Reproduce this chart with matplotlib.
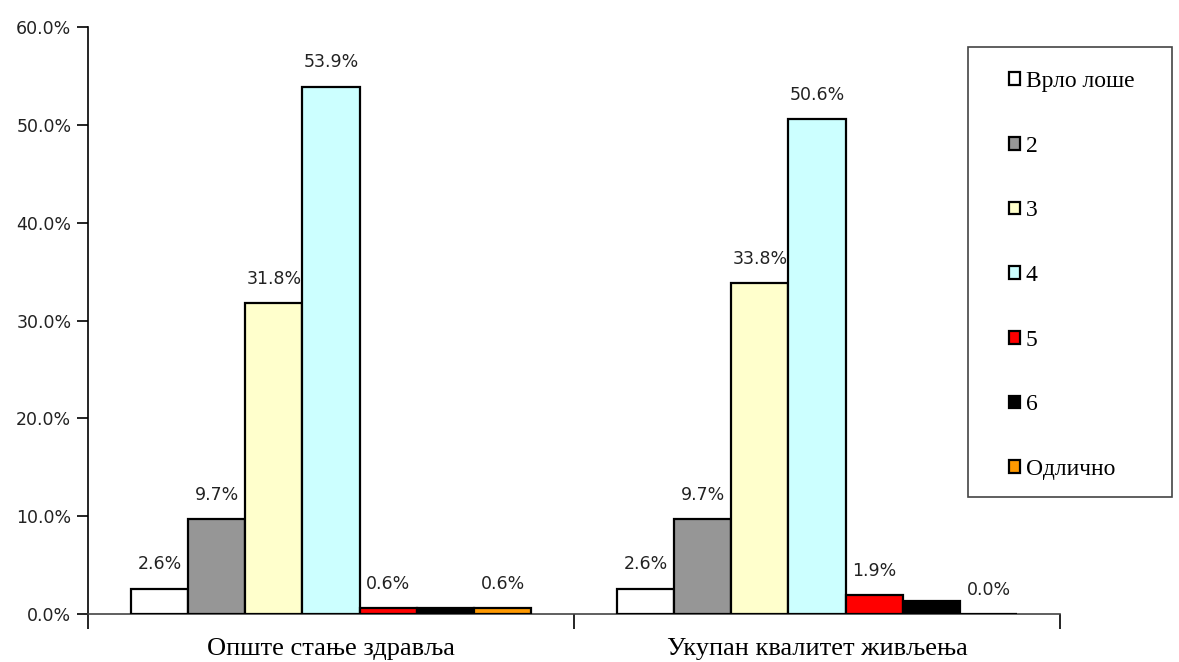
"""
Grouped bar chart: self-rated health and quality of life (Serbian Cyrillic labels)
"""

import matplotlib
matplotlib.use("Agg")
import matplotlib.pyplot as plt
from matplotlib.patches import Rectangle
from matplotlib.ticker import FuncFormatter

# categories on the x axis
categories = ["Опште стање здравља", "Укупан квалитет живљења"]

# series names (rating scale) and their values in percent
series_names = ["Врло лоше", "2", "3", "4", "5", "6", "Одлично"]
vrlo_lose = [2.6, 2.6]
ocena_2 = [9.7, 9.7]
ocena_3 = [31.8, 33.8]
ocena_4 = [53.9, 50.6]
ocena_5 = [0.6, 1.9]
ocena_6 = [0.6, 1.3]
odlicno = [0.6, 0.0]
series_values = [vrlo_lose, ocena_2, ocena_3, ocena_4, ocena_5, ocena_6, odlicno]

# series 6 has no data labels in the original
show_labels = [True, True, True, True, True, False, True]

colors = ["#FFFFFF", "#969696", "#FFFFCC", "#CCFFFF", "#FF0000", "#000000", "#FF9900"]

SERIF = "Liberation Serif"
SANS = "DejaVu Sans"

fig = plt.figure(figsize=(11.79, 6.62), dpi=100)
ax = fig.add_axes([88 / 1179, 48 / 662, (1060 - 88) / 1179, (614 - 27) / 662])

n = len(series_names)
width = 1 / (n + 1.5)  # Excel-like gap width of 150%

for i, (name, vals) in enumerate(zip(series_names, series_values)):
    xs = [c + (i - (n - 1) / 2) * width for c in range(len(categories))]
    bars = ax.bar(xs, vals, width=width, color=colors[i], edgecolor="black",
                  linewidth=1.6, label=name, zorder=3)
    if show_labels[i]:
        for b, v in zip(bars, vals):
            ax.annotate(f"{v:.1f}%", (b.get_x() + b.get_width() / 2, v),
                        xytext=(0, 11), textcoords="offset points",
                        ha="center", va="bottom", fontsize=12.5,
                        family=SANS, color="#222222")

ax.set_xlim(-0.5, 1.5)
ax.set_ylim(0, 60)
ax.set_yticks([0, 10, 20, 30, 40, 50, 60])
ax.yaxis.set_major_formatter(FuncFormatter(lambda v, p: f"{v:.1f}%"))
for lbl in ax.get_yticklabels():
    lbl.set_family(SANS)
    lbl.set_fontsize(12.5)
    lbl.set_color("#222222")
ax.tick_params(axis="y", direction="out", length=8, width=1.2, pad=4)

ax.set_xticks([0, 1])
ax.set_xticklabels(categories, family=SERIF, fontsize=19)
ax.tick_params(axis="x", which="major", length=0, pad=17)
ax.set_xticks([-0.5, 0.5, 1.5], minor=True)
ax.tick_params(axis="x", which="minor", direction="out", length=11, width=1.2)

for side in ["top", "right"]:
    ax.spines[side].set_visible(False)
ax.spines["left"].set_linewidth(1.2)
ax.spines["bottom"].set_linewidth(1.2)
ax.spines["bottom"].set_color("#444444")

# legend box drawn as its own frame
frame = Rectangle((968 / 1179, 1 - 497 / 662), (1172 - 968) / 1179, (497 - 47) / 662,
                  transform=fig.transFigure, facecolor="white", edgecolor="#444444",
                  linewidth=1.2, zorder=5)
fig.patches.append(frame)
leg = fig.legend(loc="upper left", bbox_to_anchor=(1009 / 1179, 1 - 71 / 662),
                 frameon=False, prop={"family": SERIF, "size": 17},
                 handlelength=0.45, handleheight=0.45, handletextpad=0.25,
                 labelspacing=1.85, borderaxespad=0, borderpad=0)
leg.set_zorder(6)
for h in leg.legend_handles:
    h.set_linewidth(1.6)

fig.savefig("out.png", dpi=100)
